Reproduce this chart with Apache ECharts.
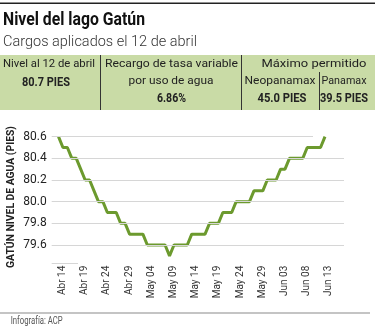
<!DOCTYPE html>
<html><head><meta charset="utf-8">
<script src="https://cdn.jsdelivr.net/npm/echarts@6/dist/echarts.min.js"></script>
<style>html,body{margin:0;padding:0;background:#fff}#c{width:375px;height:330px}</style>
</head><body><div id="c"></div>
<script>
// ---- data ----
const dates = [
 'Abr 14','Abr 15','Abr 16','Abr 17','Abr 18','Abr 19','Abr 20','Abr 21','Abr 22','Abr 23','Abr 24','Abr 25','Abr 26','Abr 27','Abr 28','Abr 29','Abr 30',
 'May 01','May 02','May 03','May 04','May 05','May 06','May 07','May 08','May 09','May 10','May 11','May 12','May 13','May 14','May 15','May 16','May 17','May 18','May 19','May 20','May 21','May 22','May 23','May 24','May 25','May 26','May 27','May 28','May 29','May 30','May 31',
 'Jun 01','Jun 02','Jun 03','Jun 04','Jun 05','Jun 06','Jun 07','Jun 08','Jun 09','Jun 10','Jun 11','Jun 12','Jun 13'
];
const levels = [
 80.6,80.5,80.5,80.4,80.4,80.3,80.2,80.2,80.1,80.0,80.0,79.9,79.9,79.9,79.8,79.8,79.7,
 79.7,79.7,79.7,79.6,79.6,79.6,79.6,79.6,79.5,79.6,79.6,79.6,79.6,79.7,79.7,79.7,79.7,79.8,79.8,79.8,79.9,79.9,79.9,80.0,80.0,80.0,80.0,80.1,80.1,80.1,80.2,
 80.2,80.2,80.3,80.3,80.4,80.4,80.4,80.4,80.5,80.5,80.5,80.5,80.6
];
const labelIdx = [0,5,10,15,20,25,30,35,40,45,50,55,60];
const gridValues = [79.6,79.8,80.0,80.2,80.4];
const title = 'Nivel del lago Gatún';
const subtitle = 'Cargos aplicados el 12 de abril';
const yName = 'GATÚN NIVEL DE AGUA (PIES)';
const source = 'Infografía: ACP';
const tableTexts = {
  c1h: 'Nivel al 12 de abril', c1v: '80.7 PIES',
  c2h1: 'Recargo de tasa variable', c2h2: 'por uso de agua', c2v: '6.86%',
  c3h: 'Máximo permitido', c3a: 'Neopanamax', c3av: '45.0 PIES', c3b: 'Panamax', c3bv: '39.5 PIES'
};

// ---- helpers ----
const ctx = document.createElement('canvas').getContext('2d');
function txt(text, font, x, y, w, align, fill, rot) {
  ctx.font = font;
  const mw = ctx.measureText(text).width;
  const s = w ? w / mw : 1;
  return {type:'text', x:x, y:y, rotation: rot||0, scaleX: s, z: 10,
    style:{text:text, font:font, fill: fill||'#222', textAlign: align||'center', textVerticalAlign:'middle'}};
}
const F = 'Roboto, "Liberation Sans", sans-serif';
const green = '#6c9a2e';

const graphics = [
  {type:'line', shape:{x1:0,y1:3.3,x2:375,y2:3.3}, style:{stroke:'#222', lineWidth:1.6}},
  txt(title, 'bold 19px '+F, 3, 19.8, 142, 'left', '#111'),
  txt(subtitle, '300 14px '+F, 3, 42, 194, 'left', '#333'),
  {type:'rect', shape:{x:0,y:55,width:375,height:55}, style:{fill:'#c9dba6'}},
  {type:'line', shape:{x1:100.5,y1:55,x2:100.5,y2:110}, style:{stroke:'#333', lineWidth:1}},
  {type:'line', shape:{x1:241.5,y1:55,x2:241.5,y2:110}, style:{stroke:'#333', lineWidth:1}},
  {type:'line', shape:{x1:319.5,y1:72,x2:319.5,y2:110}, style:{stroke:'#333', lineWidth:1}},
  txt(tableTexts.c1h, '11.5px '+F, 49, 64, 92),
  txt(tableTexts.c1v, 'bold 12.5px '+F, 46, 82.5, 48),
  txt(tableTexts.c2h1, '11.5px '+F, 171.5, 64, 133),
  txt(tableTexts.c2h2, '11.5px '+F, 171, 81.5, 85),
  txt(tableTexts.c2v, 'bold 12.5px '+F, 171.5, 98.5, 29),
  txt(tableTexts.c3h, '11.5px '+F, 314, 64, 105),
  txt(tableTexts.c3a, '11.5px '+F, 280, 81.5, 71),
  txt(tableTexts.c3av, 'bold 12.5px '+F, 282, 98.5, 49),
  txt(tableTexts.c3b, '11.5px '+F, 344, 81.5, 45),
  txt(tableTexts.c3bv, 'bold 12.5px '+F, 344, 98.5, 48),
  txt(yName, 'bold 11.5px '+F, 11, 197, 142, 'center', '#222', Math.PI/2),
  {type:'line', shape:{x1:0,y1:313,x2:370,y2:313}, style:{stroke:'#b0b0b0', lineWidth:1.6}},
  txt(source, '10px '+F, 10.7, 321.5, 52, 'left', '#555')
];

const chart = echarts.init(document.getElementById('c'), null, {renderer:'canvas'});
chart.setOption({
  animation: false,
  backgroundColor: '#fff',
  grid: {left: 51.7, right: 31, top: 115, bottom: 63.3, containLabel: false},
  xAxis: {
    type: 'value', min: -1.53, max: 64.28,
    axisLine: {show:false}, axisTick: {show:false}, splitLine: {show:false},
    axisLabel: {
      customValues: labelIdx,
      formatter: v => dates[Math.round(v)] || '',
      rotate: 90, margin: -1, fontSize: 10, color: '#333', fontFamily: 'Roboto',
      verticalAlign: 'top', lineHeight: 8
    }
  },
  yAxis: {
    type: 'value', min: 79.4, max: 80.8, interval: 0.2,
    axisLine: {show:false}, axisTick: {show:false}, splitLine: {show:false},
    axisLabel: {
      formatter: v => (v < 79.5 || v > 80.7) ? '' : v.toFixed(1),
      margin: 5, fontSize: 12, color: '#222', fontFamily: 'Roboto'
    }
  },
  graphic: graphics,
  series: [
    {
      type: 'line', z: 1, data: [], silent: true,
      markLine: {
        silent: true, symbol: ['none','none'], label: {show:false},
        lineStyle: {color:'#d6d6d6', width:1, type:'solid'},
        data: gridValues.map(v => ({yAxis: v})).concat([
          [{coord:[-1.53, 80.6]}, {coord:[57.3, 80.6]}],
          [{coord:[-1.53, 79.43]}, {coord:[4.4, 79.43]}]
        ])
      }
    },
    {
      type: 'line', z: 3, showSymbol: false,
      data: levels.map((v, i) => [i, v]),
      lineStyle: {color: green, width: 3},
      itemStyle: {color: green}
    }
  ]
});
</script>
</body></html>
